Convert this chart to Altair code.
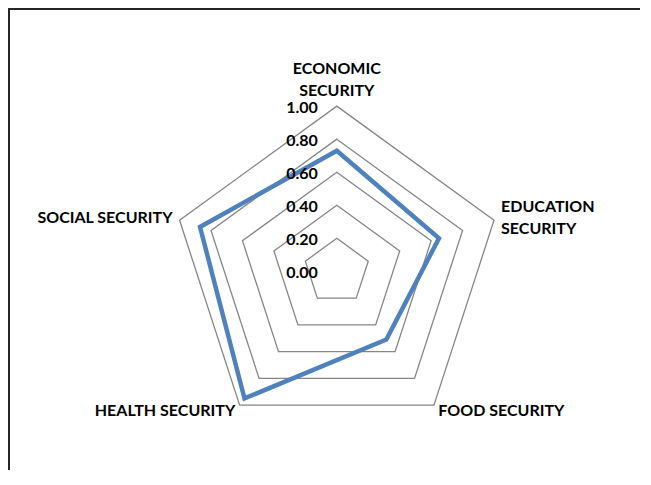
import math
import altair as alt
import pandas as pd

# ---- data ----
categories = ["ECONOMIC SECURITY", "EDUCATION SECURITY", "FOOD SECURITY", "HEALTH SECURITY", "SOCIAL SECURITY"]
label_lines = [["ECONOMIC", "SECURITY"], ["EDUCATION", "SECURITY"], ["FOOD SECURITY"], ["HEALTH SECURITY"], ["SOCIAL SECURITY"]]
values = [0.73, 0.65, 0.51, 0.95, 0.87]
grid_levels = [0.2, 0.4, 0.6, 0.8, 1.0]
tick_values = [0.0, 0.2, 0.4, 0.6, 0.8, 1.0]

# ---- layout ----
W, H = 632, 462
R_PX = 165.3          # pixels for radius 1.0
CX, CY = 328.8, 263.4  # centre inside the plot area (px)
x_dom = [-CX / R_PX, (W - CX) / R_PX]
y_dom = [-(H - CY) / R_PX, CY / R_PX]
LH = 22

n = len(categories)
angles = [2 * math.pi * i / n for i in range(n)]


def pt(r, a):
    return r * math.sin(a), r * math.cos(a)


rows = []
for i, (c, v) in enumerate(zip(categories, values)):
    x, y = pt(v, angles[i])
    rows.append({"cat": c, "x": x, "y": y, "o": i})
series_df = pd.DataFrame(rows)

grows = []
for lv in grid_levels:
    for i in range(n):
        x, y = pt(lv, angles[i])
        grows.append({"level": lv, "x": x, "y": y, "o": i})
grid_df = pd.DataFrame(grows)

LR = 1.045
lrows = []
for i, c in enumerate(categories):
    x, y = pt(LR, angles[i])
    s = math.sin(angles[i])
    align = "center" if abs(s) < 0.1 else ("left" if s > 0 else "right")
    lrows.append({"lab": label_lines[i], "x": x, "y": y, "align": align,
                  "nl": len(label_lines[i])})
lab_df = pd.DataFrame(lrows)

tick_df = pd.DataFrame({"v": tick_values, "x": [0.0] * len(tick_values),
                        "txt": [f"{t:.2f}" for t in tick_values]})

# frame path (top and left edges of the chart box), in scale units
inset = 1.0 / R_PX
frame_df = pd.DataFrame({
    "x": [x_dom[0] + inset, x_dom[0] + inset, x_dom[1]],
    "y": [y_dom[0], y_dom[1] - inset, y_dom[1] - inset],
    "o": [0, 1, 2],
})

xs = alt.Scale(domain=x_dom, nice=False, zero=False)
ys = alt.Scale(domain=y_dom, nice=False, zero=False)
X = lambda f="x": alt.X(f"{f}:Q", scale=xs, axis=None)
Y = lambda f="y": alt.Y(f"{f}:Q", scale=ys, axis=None)

FONT = "Lato"

grid = alt.Chart(grid_df).mark_line(
    interpolate="linear-closed", color="#868686", strokeWidth=1.3
).encode(x=X(), y=Y(), detail="level:N", order="o:Q")

series = alt.Chart(series_df).mark_line(
    interpolate="linear-closed", color="#4F81BD", strokeWidth=4.5, strokeJoin="miter"
).encode(x=X(), y=Y(), order="o:Q")

ticks = alt.Chart(tick_df).mark_text(
    align="right", baseline="middle", dx=-19, dy=1.5, font=FONT, fontWeight="bold",
    fontSize=16, color="#000000"
).encode(x=X(), y=Y("v"), text="txt:N")

labels = []
for (al, nl), d in lab_df.groupby(["align", "nl"]):
    if al == "center":
        baseline, dy = "bottom", -(nl - 1) * LH
    else:
        baseline, dy = "middle", -(nl - 1) * LH / 2
    labels.append(alt.Chart(d).mark_text(
        align=al, baseline=baseline, dy=dy, font=FONT, fontWeight="bold", fontSize=16,
        lineHeight=LH, color="#000000"
    ).encode(x=X(), y=Y(), text="lab"))

frame = alt.Chart(frame_df).mark_line(color="#262626", strokeWidth=2).encode(
    x=X(), y=Y(), order="o:Q")

chart = alt.layer(grid, series, ticks, *labels, frame).properties(
    width=W, height=H, autosize=alt.AutoSizeParams(type="none"), padding=0,
    background="white"
).configure_view(stroke=None)

chart.save("out.html", embed_options={"renderer": "svg", "actions": False})
